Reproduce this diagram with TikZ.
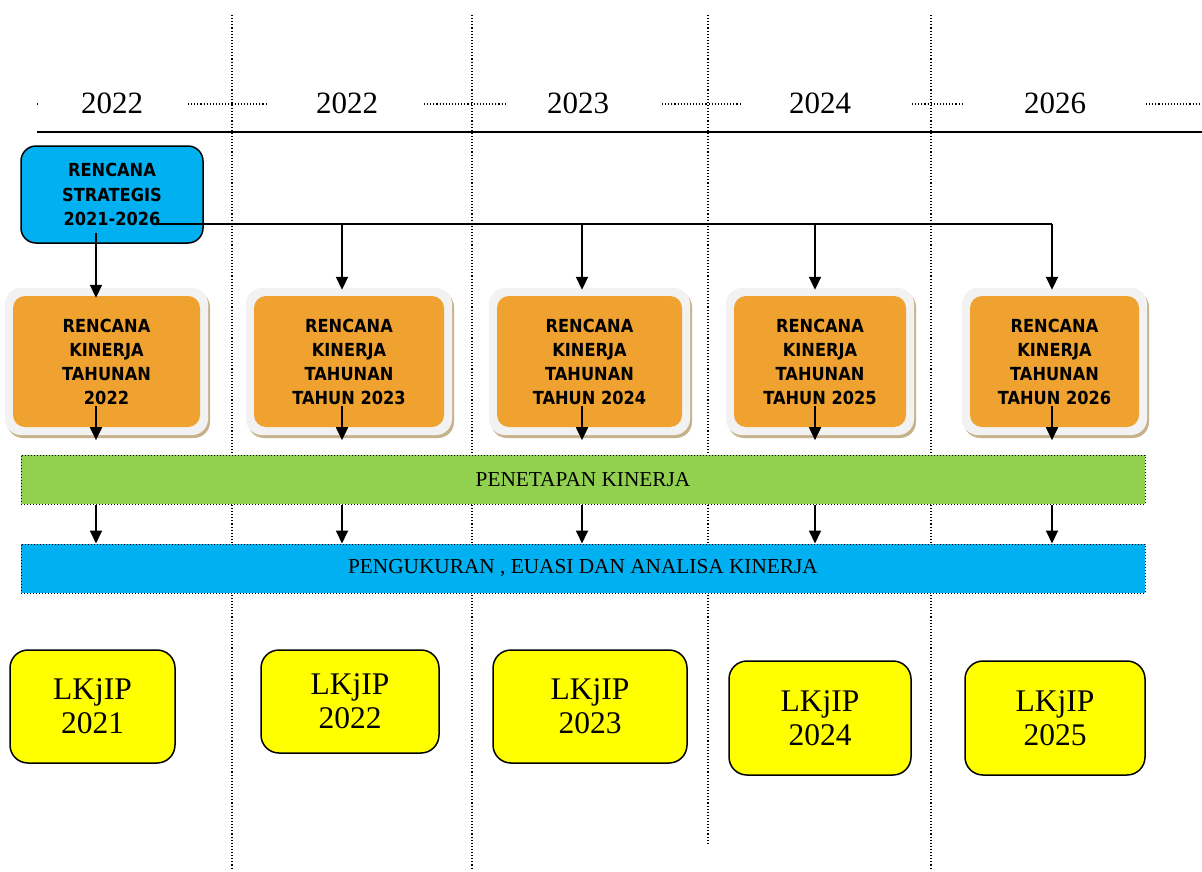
\documentclass[tikz,border=0pt]{standalone}
\usepackage{fontspec}
\setmainfont{Liberation Serif}
\newfontfamily\boxfont[FakeStretch=0.9]{DejaVu Sans}
\usetikzlibrary{arrows.meta,calc}
\definecolor{cblue}{HTML}{00B0F0}
\definecolor{cgreen}{HTML}{92D050}
\definecolor{corange}{HTML}{F0A230}
\definecolor{cyellow}{HTML}{FFFF00}
\definecolor{ringc}{HTML}{F2F2F2}
\definecolor{shc}{HTML}{C7B28E}
\newcommand\okbox[4]{%
  \fill[shc, rounded corners=16pt] (#2+2,291) rectangle (#3+2,438);
  \fill[ringc, rounded corners=16pt] (#2,288) rectangle (#3,435);
  \node[okin, minimum width={#3pt-#2pt-16pt}] (#1) at ({(#2+#3)/2},361.5) {#4};
}
\begin{document}
\begin{tikzpicture}[x=1pt,y=-1pt,
  arr/.style={line width=1.8pt, -{Triangle[width=12pt,length=13pt]}},
  vdot/.style={dotted, line width=1.1pt},
  year/.style={anchor=base, font=\fontsize{31}{34}\selectfont},
  okin/.style={fill=corange, rounded corners=12pt, minimum height=131pt, inner sep=0pt, align=center,
    font={\fontsize{18}{24}\boxfont\bfseries}},
  rsbox/.style={fill=cblue, draw, line width=1.5pt, rounded corners=15pt, minimum width=182pt, minimum height=97pt,
    inner sep=0pt, align=center, font={\fontsize{18}{24.5}\boxfont\bfseries}},
  bar/.style={draw, dotted, line width=1pt, minimum width=1124pt, minimum height=49pt, inner sep=0pt,
    font=\fontsize{21.3}{24}\selectfont},
  lbox/.style={fill=cyellow, draw, line width=1.5pt, rounded corners=18pt, inner sep=0pt, align=center,
    font={\fontsize{31.5}{34}\selectfont}}
  ]
\useasboundingbox (0,0) rectangle (1202,871);
% column separators
\draw[vdot] (232,15) -- (232,868);
\draw[vdot] (472,15) -- (472,868);
\draw[vdot] (708,15) -- (708,845);
\draw[vdot] (931,15) -- (931,868);
% top dotted segments
\draw[vdot] (37,104) -- (39,104);
\draw[vdot] (188,104) -- (268,104);
\draw[vdot] (424,104) -- (505,104);
\draw[vdot] (662,104) -- (742,104);
\draw[vdot] (912,104) -- (963,104);
\draw[vdot] (1146,104) -- (1202,104);
% year labels
\node[year] (y1) at (112,113) {2022};
\node[year] (y2) at (347,113) {2022};
\node[year] (y3) at (578,113) {2023};
\node[year] (y4) at (820,113) {2024};
\node[year] (y5) at (1055,113) {2026};
\draw[line width=1.5pt] (37,132) -- (1202,132);
% strategic plan
\node[rsbox] (rs) at (112,194.5) {RENCANA\\STRATEGIS\\2021-2026};
% annual plans
\okbox{r1}{5}{208}{RENCANA\\KINERJA\\TAHUNAN\\2022}
\okbox{r2}{246}{452}{RENCANA\\KINERJA\\TAHUNAN\\TAHUN 2023}
\okbox{r3}{489}{690}{RENCANA\\KINERJA\\TAHUNAN\\TAHUN 2024}
\okbox{r4}{726}{914}{RENCANA\\KINERJA\\TAHUNAN\\TAHUN 2025}
\okbox{r5}{962}{1147}{RENCANA\\KINERJA\\TAHUNAN\\TAHUN 2026}
% bars
\node[bar, fill=cgreen] (g) at (583,479.5) {PENETAPAN KINERJA};
\node[bar, fill=cblue] (b) at (583,568.5) {PENGUKURAN , EUASI DAN ANALISA KINERJA};
% reports
\node[lbox, minimum width=165pt, minimum height=113pt] (l1) at (92.5,706.5) {LKjIP\\2021};
\node[lbox, minimum width=178pt, minimum height=103pt] (l2) at (350,701.5) {LKjIP\\2022};
\node[lbox, minimum width=194pt, minimum height=113pt] (l3) at (590,706.5) {LKjIP\\2023};
\node[lbox, minimum width=182pt, minimum height=114pt] (l4) at (820,718) {LKjIP\\2024};
\node[lbox, minimum width=180pt, minimum height=114pt] (l5) at (1055,718) {LKjIP\\2025};
% connectors
\coordinate (hs) at (153,224);
\coordinate (c1) at (96,224);
\coordinate (c2) at (342,224);
\coordinate (c3) at (582,224);
\coordinate (c4) at (815,224);
\coordinate (c5) at (1052,224);
\draw[line width=1.8pt] (hs) -- (c5);
\draw[arr] ($(rs.south -| c1)+(0,-11)$) -- ($(c1 |- r1.north)+(0,2)$);
\foreach \i in {2,...,5}{
  \draw[arr] (c\i) -- ($(c\i |- r\i.north)+(0,-6)$);
}
\foreach \i in {1,...,5}{
  \draw[arr] ($(c\i |- r\i.south)+(0,-21)$) -- ($(c\i |- r\i.south)+(0,13)$);
  \draw[arr] (c\i |- g.south) -- (c\i |- b.north);
}
\end{tikzpicture}
\end{document}
